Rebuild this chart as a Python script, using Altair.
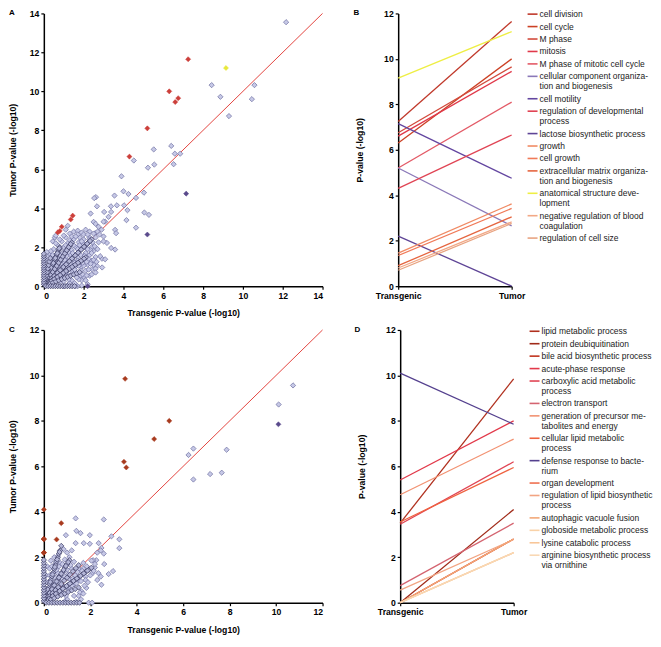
import altair as alt
import pandas as pd

FONT = "Liberation Sans"

# ---------------- Panel A : scatter (Transgenic vs Tumor) ----------------
A_outer = [(12.17, 13.55), (8.43, 10.32), (8.87, 9.72), (9.3, 8.73), (10.58, 10.32), (10.45, 9.6),
           (6.4, 7.2), (5.52, 7.02), (6.58, 6.8), (6.85, 6.8), (6.52, 6.26), (5.55, 6.24), (5.23, 6.08),
           (4.52, 6.45), (3.9, 5.64), (4.0, 4.87), (4.25, 4.73), (5.03, 4.8), (4.63, 4.53), (4.03, 4.15),
           (4.2, 3.9), (5.05, 3.78), (5.28, 3.66), (4.15, 3.39), (4.63, 3.0), (3.55, 4.65), (3.67, 4.15),
           (2.62, 4.57), (2.53, 4.52), (2.67, 4.1), (2.35, 3.73), (3.37, 4.1), (3.38, 3.81), (3.03, 3.81),
           (3.25, 3.56), (3.08, 3.31), (3.58, 2.89), (3.63, 2.72), (3.58, 1.88), (3.38, 1.96), (3.17, 2.22),
           (3.0, 2.55), (3.0, 2.3), (2.92, 1.41), (3.08, 1.38), (2.93, 0.96), (3.0, 3.31), (2.75, 3.05),
           (2.58, 2.72), (2.83, 1.54), (2.67, 1.04), (2.42, 0.87), (2.3, 0.54), (1.9, 0.03), (1.7, 0.0),
           (1.2, 3.1), (1.1, 2.9), (0.55, 2.5), (0.45, 2.3), (0.6, 2.6)]
A_rays = [(0.05, 0.12), (0.1, 0.25), (0.15, 0.38), (0.2, 0.5), (0.25, 0.62), (0.3, 0.75), (0.35, 0.88),
          (0.4, 1.0), (0.45, 1.12), (0.5, 1.25), (0.55, 1.38), (0.6, 1.5), (0.65, 1.62), (0.7, 1.75),
          (0.75, 1.88), (0.8, 2.0),
          (0.075, 0.19), (0.175, 0.44), (0.275, 0.69), (0.375, 0.94), (0.475, 1.19), (0.575, 1.44),
          (0.675, 1.69), (0.775, 1.94),
          (0.1, 0.16), (0.2, 0.32), (0.3, 0.48), (0.4, 0.64), (0.5, 0.8), (0.6, 0.96), (0.7, 1.12),
          (0.8, 1.28), (0.9, 1.44), (1.0, 1.6), (1.1, 1.76), (1.2, 1.92), (1.3, 2.08), (1.4, 2.24),
          (0.05, 0.08), (0.15, 0.24), (0.25, 0.4), (0.35, 0.56), (0.45, 0.72), (0.55, 0.88), (0.65, 1.04),
          (0.75, 1.2), (0.85, 1.36), (0.95, 1.52), (1.05, 1.68), (1.15, 1.84), (1.25, 2.0), (1.35, 2.16),
          (0.15, 0.15), (0.3, 0.3), (0.45, 0.45), (0.6, 0.6), (0.75, 0.75), (0.9, 0.9), (1.05, 1.05),
          (1.2, 1.2), (1.35, 1.35), (1.5, 1.5), (1.65, 1.65), (1.8, 1.8), (1.95, 1.95), (2.1, 2.1),
          (2.25, 2.25), (2.4, 2.4),
          (0.08, 0.08), (0.22, 0.22), (0.38, 0.38), (0.52, 0.52), (0.68, 0.68), (0.82, 0.82), (0.98, 0.98),
          (1.12, 1.12), (1.28, 1.28), (1.42, 1.42), (1.58, 1.58), (1.72, 1.72), (1.88, 1.88), (2.02, 2.02),
          (2.18, 2.18), (2.32, 2.32),
          (0.15, 0.1), (0.3, 0.21), (0.45, 0.31), (0.6, 0.42), (0.75, 0.52), (0.9, 0.63), (1.05, 0.73),
          (1.2, 0.84), (1.35, 0.94), (1.5, 1.05), (1.65, 1.15), (1.8, 1.26), (1.95, 1.36), (2.1, 1.47),
          (0.08, 0.05), (0.22, 0.15), (0.38, 0.26), (0.52, 0.36), (0.68, 0.47), (0.82, 0.57), (0.98, 0.68),
          (1.12, 0.78), (1.28, 0.89), (1.42, 0.99), (1.58, 1.1), (1.72, 1.2), (1.88, 1.31), (2.02, 1.41),
          (0.15, 0.06), (0.3, 0.12), (0.45, 0.18), (0.6, 0.24), (0.75, 0.3), (0.9, 0.36), (1.05, 0.42),
          (1.2, 0.48), (1.35, 0.54), (1.5, 0.6), (1.65, 0.66), (1.8, 0.72),
          (0.04, 0.18), (0.08, 0.36), (0.12, 0.54), (0.16, 0.72), (0.2, 0.9), (0.24, 1.08), (0.28, 1.26),
          (0.32, 1.44),
          (0.0, 0.1), (0.0, 0.22), (0.0, 0.34), (0.0, 0.46), (0.0, 0.58), (0.0, 0.7), (0.0, 0.82),
          (0.0, 0.94), (0.0, 1.06), (0.0, 1.18), (0.0, 1.3), (0.0, 1.42), (0.0, 1.54), (0.0, 1.66),
          (0.1, 0.0), (0.22, 0.0), (0.34, 0.0), (0.46, 0.0), (0.58, 0.0), (0.7, 0.0), (0.82, 0.0),
          (0.94, 0.0), (1.06, 0.0), (1.18, 0.0), (1.3, 0.0), (1.42, 0.0), (1.54, 0.0)]
A_fill = [(0.3, 1.6), (0.5, 1.9), (0.7, 2.1), (0.9, 2.3), (1.1, 2.5), (1.3, 2.7), (1.5, 2.8), (1.7, 2.85),
          (1.9, 2.75), (2.1, 2.9), (2.3, 2.8), (2.5, 2.7), (2.6, 2.5), (1.2, 2.2), (1.5, 2.4), (1.8, 2.5),
          (2.0, 2.4), (2.2, 2.2), (2.4, 2.0), (2.5, 1.8), (2.6, 1.5), (2.4, 1.3), (2.2, 1.1), (2.1, 0.8),
          (2.0, 0.5), (1.9, 0.3), (2.2, 0.1), (1.8, 1.2), (1.6, 1.0), (1.4, 0.8), (1.2, 0.6), (1.0, 0.45),
          (0.8, 0.2), (1.4, 0.3), (1.7, 0.6), (0.9, 1.5), (1.1, 1.8), (0.7, 1.2), (0.5, 0.9), (0.3, 0.5),
          (0.2, 1.0), (0.1, 1.3), (0.4, 1.4), (0.6, 1.6), (0.8, 1.9), (1.0, 2.0), (1.6, 2.0), (1.9, 2.0),
          (2.1, 1.7), (2.3, 1.6), (1.7, 1.5), (2.0, 1.3), (1.5, 1.6), (1.2, 1.05), (1.5, 1.3), (1.9, 1.0),
          (1.3, 0.9), (1.6, 0.7), (1.1, 0.7), (0.9, 0.6), (0.7, 0.5), (0.5, 0.3), (2.6, 0.9), (2.5, 1.1),
          (2.7, 2.8), (2.8, 2.65), (2.9, 2.9), (2.5, 3.3), (2.6, 3.2), (1.0, 0.0), (1.2, 0.05), (1.6, 0.0),
          (0.2, 1.5), (0.35, 1.8), (0.15, 1.75), (0.6, 2.2), (0.8, 2.4), (1.0, 2.6), (1.4, 2.55), (1.7, 2.65),
          (2.0, 2.65), (2.3, 2.5), (2.45, 2.25), (2.35, 1.85), (2.25, 1.4), (2.4, 0.6), (2.1, 0.3), (1.75, 0.35),
          (1.55, 0.15), (1.3, 0.15), (2.0, 1.05), (1.85, 0.55), (1.1, 1.4), (1.3, 1.6), (1.4, 1.85),
          (1.0, 1.25), (0.8, 1.05), (0.65, 0.8), (2.0, 2.15), (1.75, 2.25), (2.2, 2.65), (0.45, 1.6),
          (0.1, 0.5), (0.1, 0.8), (0.2, 0.3), (0.25, 0.7), (0.35, 0.3), (0.35, 1.15), (0.4, 0.55), (0.45, 0.85),
          (0.55, 0.55), (0.55, 1.05), (0.6, 1.25), (0.65, 0.35), (0.7, 0.7), (0.7, 0.95), (0.75, 1.45),
          (0.8, 1.6), (0.85, 0.4), (0.85, 1.15), (0.95, 0.8), (0.95, 1.7), (1.0, 0.25), (1.05, 1.35),
          (1.1, 2.1), (1.15, 0.95), (1.15, 1.55), (1.25, 0.35), (1.25, 1.75), (1.3, 2.35), (1.35, 1.1),
          (1.4, 0.6), (1.45, 1.7), (1.5, 2.1), (1.55, 0.85), (1.55, 1.2), (1.6, 2.55), (1.65, 0.45),
          (1.7, 1.3), (1.7, 1.9), (1.75, 1.05), (1.8, 2.1), (1.85, 0.8), (1.85, 1.6), (1.9, 2.3), (1.95, 0.6),
          (1.95, 1.2), (2.05, 1.55), (2.1, 2.0), (2.15, 0.55), (2.15, 1.25), (2.2, 1.9), (2.25, 0.85),
          (2.3, 2.4), (2.35, 1.15), (2.4, 1.7), (2.5, 1.35), (2.55, 2.05), (2.6, 0.7), (2.65, 1.25),
          (2.7, 1.9), (2.75, 2.25)]

# ---------------- Panel B : GO terms (Transgenic -> Tumor) ----------------
B_terms = ["cell division", "cell cycle", "M phase", "mitosis", "M phase of mitotic cell cycle",
           "cellular component organiza-|tion and biogenesis", "cell motility",
           "regulation of developmental|process", "lactose biosynthetic process", "growth", "cell growth",
           "extracellular matrix organiza-|tion and biogenesis", "anatomical structure deve-|lopment",
           "negative regulation of blood|coagulation", "regulation of cell size"]
B_trans = [7.25, 6.3, 6.75, 6.6, 5.2, 5.2, 7.15, 4.3, 2.2, 1.45, 1.35, 0.9, 9.15, 0.8, 0.7]
B_tumor = [11.65, 10.0, 9.65, 9.45, 8.1, 2.65, 4.75, 6.65, 0.0, 3.62, 3.42, 3.05, 11.2, 2.83, 2.76]
B_colors = ["#c0392b", "#cc4125", "#d24a3c", "#e0394a", "#e35a66", "#8a78b8", "#6346a0", "#e04454",
            "#5e4496", "#f08a64", "#f07a58", "#e5653f", "#eeee44", "#f2a886", "#e8a482"]
B_groups = ["red", "red", "red", "red", "red", "purple", "purple", "red", "purple", "red", "red", "red",
            "yellow", "red", "red"]

# ---------------- Panel C : scatter ----------------
C_outer = [(10.73, 9.56), (10.11, 8.72), (6.23, 6.5), (6.44, 6.78), (6.44, 5.42), (7.16, 5.66),
           (7.66, 5.72), (7.87, 6.73), (1.37, 3.71), (2.58, 3.66), (1.4, 3.16), (1.58, 3.06), (1.98, 2.97),
           (0.95, 2.97), (1.72, 2.62), (1.98, 2.59), (1.37, 2.62), (2.36, 2.62), (2.91, 2.92), (3.25, 2.79),
           (3.25, 2.4), (2.48, 2.41), (2.58, 2.16), (2.26, 1.87), (2.12, 1.87), (2.6, 1.7), (2.98, 1.39),
           (2.79, 1.26), (2.48, 0.79), (1.83, 0.65), (1.62, 0.5), (1.93, 0.0), (2.08, 0.0)]
C_rays = [(0.05, 0.17), (0.1, 0.33), (0.15, 0.5), (0.2, 0.66), (0.25, 0.83), (0.3, 1.0), (0.35, 1.16),
          (0.4, 1.32), (0.45, 1.49), (0.5, 1.65), (0.55, 1.82), (0.6, 1.98), (0.65, 2.15), (0.7, 2.3),
          (0.75, 2.5),
          (0.075, 0.25), (0.175, 0.58), (0.275, 0.91), (0.375, 1.24), (0.475, 1.57), (0.575, 1.9),
          (0.675, 2.23),
          (0.1, 0.17), (0.2, 0.34), (0.3, 0.51), (0.4, 0.68), (0.5, 0.85), (0.6, 1.02), (0.7, 1.19),
          (0.8, 1.36), (0.9, 1.53), (1.0, 1.7), (1.1, 1.87),
          (0.05, 0.085), (0.15, 0.255), (0.25, 0.425), (0.35, 0.595), (0.45, 0.765), (0.55, 0.935),
          (0.65, 1.105), (0.75, 1.275), (0.85, 1.445), (0.95, 1.615), (1.05, 1.785),
          (0.12, 0.13), (0.25, 0.28), (0.38, 0.42), (0.5, 0.55), (0.62, 0.68), (0.75, 0.82), (0.88, 0.97),
          (1.0, 1.1), (1.12, 1.23), (1.25, 1.38), (1.38, 1.52), (1.5, 1.65),
          (0.15, 0.11), (0.3, 0.22), (0.45, 0.34), (0.6, 0.45), (0.75, 0.56), (0.9, 0.68), (1.05, 0.79),
          (1.2, 0.9), (1.35, 1.01), (1.5, 1.12), (1.65, 1.24), (1.8, 1.35), (1.95, 1.46), (2.05, 1.54),
          (0.08, 0.06), (0.22, 0.165), (0.38, 0.285), (0.52, 0.39), (0.68, 0.51), (0.82, 0.615),
          (0.98, 0.735), (1.12, 0.84), (1.28, 0.96), (1.42, 1.065), (1.58, 1.185), (1.72, 1.29), (1.88, 1.41),
          (0.15, 0.07), (0.3, 0.13), (0.45, 0.2), (0.6, 0.27), (0.75, 0.34), (0.9, 0.4), (1.05, 0.47),
          (1.2, 0.54), (1.35, 0.6), (1.5, 0.67),
          (0.0, 0.08), (0.0, 0.2), (0.0, 0.32), (0.0, 0.44), (0.0, 0.56), (0.0, 0.68), (0.0, 0.8),
          (0.0, 0.92), (0.0, 1.04), (0.0, 1.16), (0.0, 1.28), (0.0, 1.4), (0.0, 1.52), (0.0, 1.64),
          (0.0, 1.76), (0.0, 1.88),
          (0.1, 0.0), (0.22, 0.0), (0.34, 0.0), (0.46, 0.0), (0.58, 0.0), (0.7, 0.0), (0.82, 0.0),
          (0.94, 0.0), (1.06, 0.0), (1.18, 0.0), (1.3, 0.0), (1.42, 0.0), (1.54, 0.0)]
C_fill = [(0.3, 1.85), (0.15, 1.6), (0.5, 1.75), (0.7, 1.75), (0.9, 1.9), (1.1, 2.0), (1.2, 2.3), (1.0, 2.2),
          (0.85, 2.35), (0.6, 2.05), (0.4, 1.3), (0.6, 1.3), (0.9, 1.4), (1.2, 1.5), (1.5, 1.5), (1.7, 1.5),
          (1.9, 1.45), (2.2, 1.55), (2.1, 1.3), (1.8, 1.15), (1.5, 1.0), (1.3, 0.8), (1.1, 0.6), (0.8, 0.45),
          (0.5, 0.25), (1.0, 0.15), (1.3, 0.3), (1.6, 0.15), (0.9, 0.05), (1.4, 0.05), (1.05, 1.25),
          (1.35, 1.2), (1.75, 0.75), (2.3, 1.0), (2.45, 1.15), (1.55, 0.45), (1.7, 1.75), (2.05, 1.85),
          (2.3, 2.2), (2.45, 2.3), (0.2, 0.9), (0.1, 1.2), (0.25, 1.5), (0.45, 2.0),
          (0.1, 0.6), (0.1, 0.9), (0.2, 0.4), (0.25, 1.2), (0.3, 0.7), (0.35, 1.6), (0.4, 0.9), (0.45, 0.45),
          (0.5, 1.1), (0.55, 1.45), (0.6, 0.6), (0.65, 1.6), (0.7, 0.85), (0.75, 1.05), (0.8, 1.7),
          (0.85, 0.7), (0.9, 1.15), (0.95, 0.3), (1.0, 1.45), (1.05, 0.55), (1.1, 1.05), (1.15, 1.65),
          (1.2, 0.75), (1.25, 1.05), (1.3, 1.8), (1.4, 0.85), (1.45, 1.35), (1.5, 0.3), (1.6, 0.95),
          (1.65, 1.4), (1.7, 0.4), (1.8, 1.0), (1.85, 1.6), (1.9, 0.9), (2.0, 1.2), (2.15, 1.4), (2.2, 1.7),
          (2.35, 1.3)]

# ---------------- Panel D : GO terms ----------------
D_terms = ["lipid metabolic process", "protein deubiquitination", "bile acid biosynthetic process",
           "acute-phase response", "carboxylic acid metabolic|process", "electron transport",
           "generation of precursor me-|tabolites and energy", "cellular lipid metabolic|process",
           "defense response to bacte-|rium", "organ development", "regulation of lipid biosynthetic|process",
           "autophagic vacuole fusion", "globoside metabolic process", "lysine catabolic process",
           "arginine biosynthetic process|via ornithine"]
D_trans = [3.5, 0.0, 0.0, 5.4, 3.45, 0.75, 4.75, 3.55, 10.1, 0.0, 0.55, 0.0, 0.0, 0.0, 0.0]
D_tumor = [9.85, 4.1, 2.8, 8.0, 6.2, 3.5, 7.2, 5.95, 7.85, 2.8, 2.78, 2.8, 2.2, 2.2, 2.2]
D_colors = ["#b0301e", "#a02a18", "#c0341e", "#e2394a", "#e04454", "#d46470", "#f29272", "#ef6240",
            "#54408e", "#ef7050", "#f2a482", "#f2a878", "#f9d2a8", "#f8c698", "#f9d8b4"]
D_groups = ["red"] * 8 + ["purple"] + ["red"] * 6

AXIS_STYLE = dict(tickSize=3, tickColor="black", tickWidth=1.2, domainColor="black", domainWidth=1.5,
                  labelFont=FONT, labelFontSize=8.7, labelFontWeight="bold", labelColor="black",
                  titleFont=FONT, titleFontSize=8.7, titleFontWeight="bold", titleColor="black",
                  grid=False, labelPadding=2, labelOverlap=False)

H = 274
LEG_FS = 8.5


def letter_layer(ch, dx, dy):
    return alt.Chart(pd.DataFrame({"t": [ch]})).mark_text(
        font=FONT, fontSize=8, fontWeight="bold", align="left", baseline="top", color="black"
    ).encode(x=alt.value(dx), y=alt.value(dy), text="t:N")


def scatter_panel(outer, rays, hx, hy, hg, maxv, hi_colors, letter, dx, tag):
    base = pd.DataFrame(outer, columns=["x", "y"])
    ray = pd.DataFrame(rays, columns=["x", "y"])
    hi = pd.DataFrame({"x": hx, "y": hy, tag: hg})
    diag = pd.DataFrame({"x": [0, maxv], "y": [0, maxv]})
    vals = list(range(0, maxv + 1, 2))
    xs = alt.Scale(domain=[0, maxv], nice=False)
    ys = alt.Scale(domain=[0, maxv], nice=False)
    xax = alt.Axis(title="Transgenic P-value (-log10)", values=vals, titlePadding=9, **AXIS_STYLE)
    yax = alt.Axis(title="Tumor P-value (-log10)", values=vals, titlePadding=11.5, **AXIS_STYLE)
    enc = dict(x=alt.X("x:Q", scale=xs, axis=xax), y=alt.Y("y:Q", scale=ys, axis=yax))
    line = alt.Chart(diag).mark_line(color="#e0302a", stroke="#e0302a", strokeWidth=0.9).encode(**enc)
    pts_l = alt.Chart(base).mark_point(shape="diamond", filled=True, fill="#c6c8e6", stroke="#6a6c9e",
                                       strokeWidth=0.7, size=28, opacity=1).encode(**enc)
    ray_l = alt.Chart(ray).mark_point(shape="diamond", filled=True, fill="#b4b6d8", stroke="#34345c",
                                      strokeWidth=0.7, size=28, opacity=1).encode(**enc)
    cs = alt.Scale(domain=list(hi_colors.keys()), range=list(hi_colors.values()))
    hi_l = alt.Chart(hi).mark_point(shape="diamond", filled=True, size=26, opacity=1, strokeWidth=0.5).encode(
        fill=alt.Fill(f"{tag}:N", scale=cs, legend=None),
        stroke=alt.Stroke(f"{tag}:N", scale=cs, legend=None), **enc)
    return alt.layer(line, pts_l, ray_l, hi_l, letter_layer(letter, dx, -4)).properties(width=280, height=H)


def line_panel(terms, trans, tumor, colors, letter, dx, pos0, tag):
    n = len(terms)
    long = pd.DataFrame({tag: terms * 2, "cond": ["Transgenic"] * n + ["Tumor"] * n, "v": trans + tumor})
    color = alt.Color(f"{tag}:N", scale=alt.Scale(domain=terms, range=colors), legend=None)
    lines = alt.Chart(long).mark_line(strokeWidth=1.3).encode(
        x=alt.X("cond:N", scale=alt.Scale(type="point", padding=0, domain=["Transgenic", "Tumor"]),
                axis=alt.Axis(title=None, labelAngle=0, **AXIS_STYLE)),
        y=alt.Y("v:Q", scale=alt.Scale(domain=[0, 12], nice=False),
                axis=alt.Axis(title="P-value (-log10)", values=list(range(0, 13, 2)), titlePadding=19,
                              **AXIS_STYLE)),
        color=color)
    marks, rows = [], []
    cur = pos0
    for t in terms:
        parts = t.split("|")
        marks.append({tag: t, "pos": cur})
        for k, p in enumerate(parts):
            if k:
                cur += 10
            rows.append({"txt": p, "pos": cur})
        cur += 12.5
    ly = alt.Y("pos:Q", scale=alt.Scale(domain=[0, H], reverse=True), axis=None)
    leg_rule = alt.Chart(pd.DataFrame(marks)).mark_rule(strokeWidth=1.6).encode(
        x=alt.value(130), x2=alt.value(140), y=ly, color=color)
    leg_text = alt.Chart(pd.DataFrame(rows)).mark_text(
        font=FONT, fontSize=LEG_FS, align="left", baseline="middle", color="#1a1a1a").encode(
        x=alt.value(142), y=ly, text="txt:N")
    return alt.layer(lines, leg_rule, leg_text, letter_layer(letter, dx, -4)).resolve_scale(
        y="independent").properties(width=114, height=H)


A_hi_colors = {"red": "#cc3f3a", "purple": "#5a4a8c", "yellow": "#e8e83a"}
C_hi_colors = {"red": "#a83a1e", "purple": "#5a4a8c"}

A = scatter_panel(A_outer + A_fill, A_rays, B_trans, B_tumor, B_groups, 14, A_hi_colors, "A", -35, "ga")
B = line_panel(B_terms, B_trans, B_tumor, B_colors, "B", -45, 0.7, "termb")
C = scatter_panel(C_outer + C_fill, C_rays, D_trans, D_tumor, D_groups, 12, C_hi_colors, "C", -35, "gc")
D = line_panel(D_terms, D_trans, D_tumor, D_colors, "D", -46, 1.3, "termd")

chart = alt.vconcat(
    alt.hconcat(A, B, spacing=29).resolve_scale(color="independent", fill="independent",
                                                 stroke="independent"),
    alt.hconcat(C, D, spacing=30).resolve_scale(color="independent", fill="independent",
                                                 stroke="independent"),
    spacing=8,
).resolve_scale(color="independent", fill="independent", stroke="independent").configure_view(
    stroke=None).properties(padding={"left": 0, "top": 0, "right": 0, "bottom": 0}, background="white")

chart.save("out.html", embed_options={"renderer": "svg", "actions": False})
